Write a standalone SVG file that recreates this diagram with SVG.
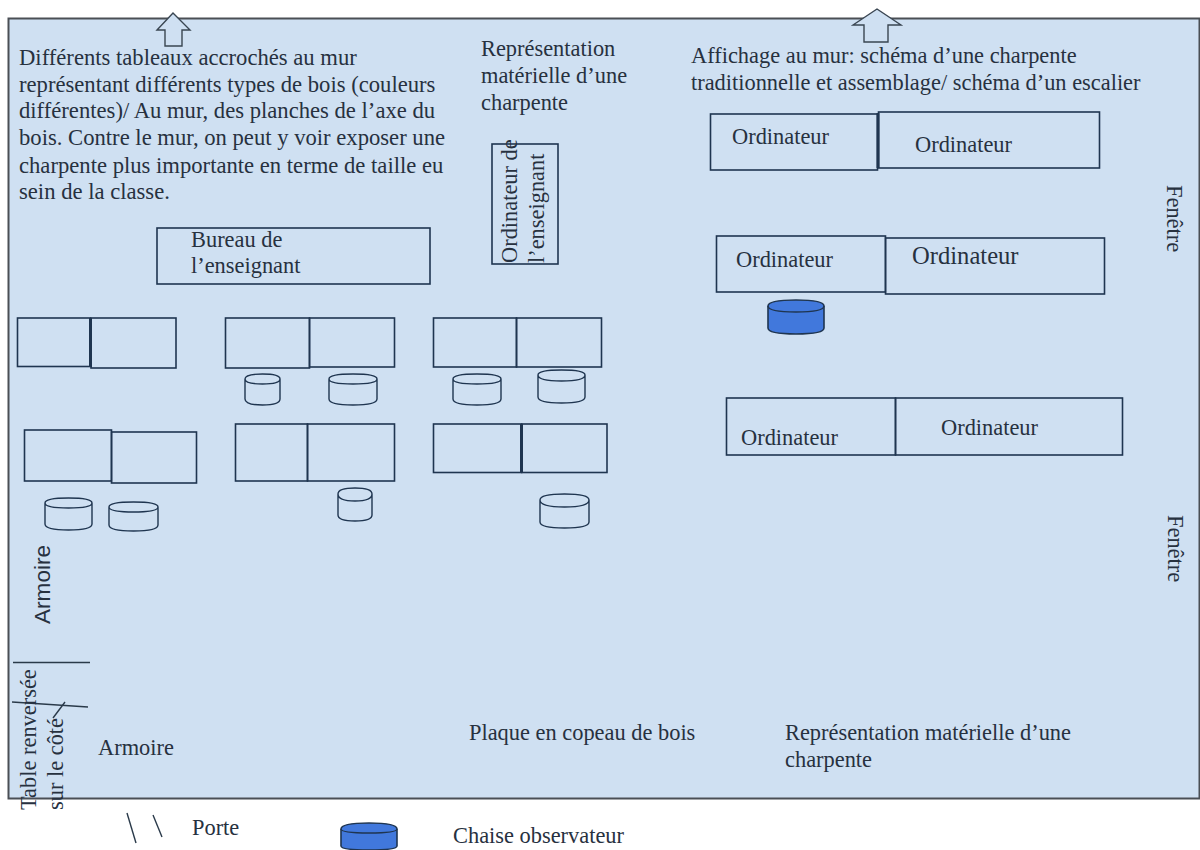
<svg xmlns="http://www.w3.org/2000/svg" width="1200" height="850" viewBox="0 0 1200 850">
<style>
text{font-family:"Liberation Serif","Times New Roman",serif;font-size:22.4px;fill:#27313f}
#text-tableaux text{font-size:22.650px}
.b{fill:none;stroke:#1f3550;stroke-width:1.6}
.c{fill:none;stroke:#1f3550;stroke-width:1.4}
.cb{fill:#4178dc;stroke:#1f3550;stroke-width:1.6}
.ar{fill:#cfe0f2;stroke:#3a4652;stroke-width:1.4}
.l{stroke:#2a3a4a;stroke-width:1.4;fill:none}
.t{stroke:#1f3550;stroke-width:3;fill:none}
</style>
<g id="room"><rect x="8.500" y="18.500" width="1191" height="780" fill="#cfe0f2" stroke="#4a4f55" stroke-width="2"/></g>
<g id="connectors">
<path class="l" d="M13 662.500H90"/><path class="l" d="M12 702L88 707"/><path class="l" d="M65 702L53 718"/>
<path class="l" d="M127 813L136 843"/><path class="l" d="M153 815L162 837"/>
</g>
<g id="arrow-left"><path class="ar" d="M157 30L173 13L190 30H182V46H165V30Z"/></g>
<g id="arrow-right"><path class="ar" d="M853 25L877 9L901 25H888V42H864V25Z"/></g>
<g id="text-tableaux"><text x="19" y="65">Différents tableaux accrochés au mur</text><text x="19" y="92">représentant différents types de bois (couleurs</text><text x="19" y="118">différentes)/ Au mur, des planches de l’axe du</text><text x="19" y="145">bois. Contre le mur, on peut y voir exposer une</text><text x="19" y="173">charpente plus importante en terme de taille eu</text><text x="19" y="199">sein de la classe.</text></g>
<g id="text-representation"><text x="481" y="56">Représentation</text><text x="481" y="83">matérielle d’une</text><text x="481" y="110">charpente</text></g>
<g id="text-affichage"><text x="691" y="63">Affichage au mur: schéma d’une charpente</text><text x="691" y="90">traditionnelle et assemblage/ schéma d’un escalier</text></g>
<g id="bureau"><rect class="b" x="157" y="228" width="273" height="56"/><text x="191" y="247">Bureau de</text><text x="191" y="273">l’enseignant</text></g>
<g id="ordi-enseignant"><rect class="b" x="492" y="144" width="66" height="120"/><text transform="translate(517 263) rotate(-90)">Ordinateur de</text><text transform="translate(544 263) rotate(-90)">l’enseignant</text></g>
<g id="ordi1"><rect class="b" x="710.500" y="114" width="167" height="56"/><text x="732" y="144">Ordinateur</text></g>
<g id="ordi2"><rect class="b" x="878.500" y="112" width="221" height="56"/><path class="t" d="M878 113V168"/><text x="915" y="152">Ordinateur</text></g>
<g id="ordi3"><rect class="b" x="716.500" y="236" width="169" height="56"/><text x="736" y="267">Ordinateur</text></g>
<g id="ordi4"><rect class="b" x="885.500" y="238" width="219" height="56"/><text x="912" y="264" style="font-size:24.600px">Ordinateur</text></g>
<g id="ordi5"><rect class="b" x="726.500" y="398" width="169" height="57"/><text x="741" y="445">Ordinateur</text></g>
<g id="ordi6"><rect class="b" x="895.500" y="398" width="227" height="57"/><text x="941" y="435">Ordinateur</text></g>
<g id="t1"><rect class="b" x="17.500" y="318" width="73" height="48.500"/></g>
<g id="t2"><rect class="b" x="91" y="318" width="85" height="50"/><path class="t" d="M90.500 318V367"/></g>
<g id="t3"><rect class="b" x="225.500" y="318" width="84" height="50"/></g>
<g id="t4"><rect class="b" x="309.500" y="318" width="85" height="49"/></g>
<g id="t5"><rect class="b" x="433.500" y="318" width="83" height="49"/></g>
<g id="t6"><rect class="b" x="516.500" y="318" width="85" height="49"/></g>
<g id="t7"><rect class="b" x="24.500" y="430" width="87" height="51"/></g>
<g id="t8"><rect class="b" x="111.500" y="432" width="85" height="51"/></g>
<g id="t9"><rect class="b" x="235.500" y="424" width="72" height="57"/></g>
<g id="t10"><rect class="b" x="307.500" y="424" width="87" height="57"/></g>
<g id="t11"><rect class="b" x="433.500" y="424" width="88" height="48.500"/></g>
<g id="t12"><rect class="b" x="522" y="424" width="85" height="48.500"/><path class="t" d="M521.500 424V472"/></g>
<g id="s1"><path class="c" d="M245 379V399Q245 405 262.500 405Q280 405 280 399V379M245 379Q245 374 262.500 374Q280 374 280 379Q280 384 262.500 384Q245 384 245 379Z"/></g>
<g id="s2"><path class="c" d="M329 379V399Q329 405 353 405Q377 405 377 399V379M329 379Q329 374 353 374Q377 374 377 379Q377 384 353 384Q329 384 329 379Z"/></g>
<g id="s3"><path class="c" d="M453 379V399Q453 405 477 405Q501 405 501 399V379M453 379Q453 374 477 374Q501 374 501 379Q501 384 477 384Q453 384 453 379Z"/></g>
<g id="s4"><path class="c" d="M538 375V397Q538 403 561.500 403Q585 403 585 397V375M538 375Q538 370 561.500 370Q585 370 585 375Q585 381 561.500 381Q538 381 538 375Z"/></g>
<g id="s5"><path class="c" d="M45 503V524Q45 530 68.500 530Q92 530 92 524V503M45 503Q45 498 68.500 498Q92 498 92 503Q92 508 68.500 508Q45 508 45 503Z"/></g>
<g id="s6"><path class="c" d="M109 507V525Q109 531 133.500 531Q158 531 158 525V507M109 507Q109 502 133.500 502Q158 502 158 507Q158 512 133.500 512Q109 512 109 507Z"/></g>
<g id="s7"><path class="c" d="M338 494V515Q338 521 355 521Q372 521 372 515V494M338 494Q338 488 355 488Q372 488 372 494Q372 501 355 501Q338 501 338 494Z"/></g>
<g id="s8"><path class="c" d="M540 500V522Q540 528 564.500 528Q589 528 589 522V500M540 500Q540 494 564.500 494Q589 494 589 500Q589 507 564.500 507Q540 507 540 500Z"/></g>
<g id="s-obs"><path class="cb" d="M768 306V328Q768 334 796 334Q824 334 824 328V306Q824 300 796 300Q768 300 768 306Z"/><path class="c" d="M768 306Q768 312 796 312Q824 312 824 306"/></g>
<g id="armoire-v"><text transform="translate(50 624) rotate(-90)" style="font-family:'Liberation Sans',Arial,sans-serif;font-size:22.600px">Armoire</text></g>
<g id="table"><text transform="translate(36 810) rotate(-90)">Table renversée</text><text transform="translate(63 810) rotate(-90)">sur le côté</text></g>
<g id="armoire-h"><text x="98" y="755">Armoire</text></g>
<g id="plaque"><text x="469" y="740">Plaque en copeau de bois</text></g>
<g id="repr2"><text x="785" y="740">Représentation matérielle d’une</text><text x="785" y="767">charpente</text></g>
<g id="fen1"><text transform="translate(1167 185) rotate(90)">Fenêtre</text></g>
<g id="fen2"><text transform="translate(1168 515) rotate(90)">Fenêtre</text></g>
<g id="porte"><text x="192" y="835">Porte</text></g>
<g id="leg-chaise"><path class="cb" d="M341 829V846Q341 850 369 850Q397 850 397 846V829Q397 823 369 823Q341 823 341 829Z"/><path class="c" d="M341 829Q341 833 369 833Q397 833 397 829"/><text x="453" y="843">Chaise observateur</text></g>
</svg>
